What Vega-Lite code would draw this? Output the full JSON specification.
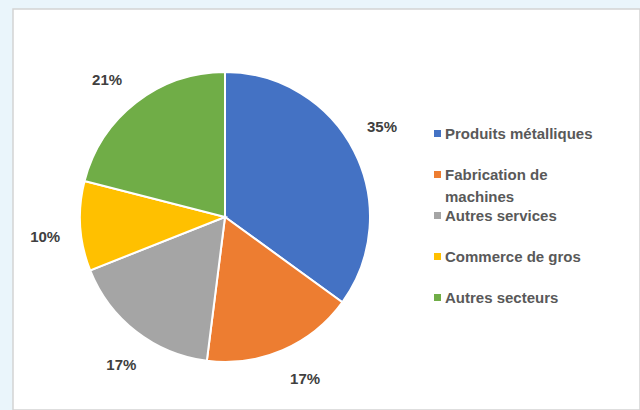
{
  "$schema": "https://vega.github.io/schema/vega-lite/v6.json",
  "width": 640,
  "height": 410,
  "autosize": {"type": "fit", "contains": "padding"},
  "padding": {"left": 13, "top": 9, "right": 0, "bottom": 0},
  "background": "#eaf5fb",
  "config": {
    "view": {"fill": "white", "stroke": "#d4d4d4", "strokeWidth": 1.5},
    "style": {
      "view": {"fill": "white", "stroke": "#d4d4d4", "strokeWidth": 1.5},
      "guide-label": {"lineHeight": 22}
    },
    "legend": {"padding": 0}
  },
  "data": {
    "values": [
      {"secteur": "Produits métalliques", "part": 0.35, "rang": 1},
      {"secteur": "Fabrication de machines", "part": 0.17, "rang": 2},
      {"secteur": "Autres services", "part": 0.17, "rang": 3},
      {"secteur": "Commerce de gros", "part": 0.10, "rang": 4},
      {"secteur": "Autres secteurs", "part": 0.21, "rang": 5}
    ]
  },
  "encoding": {
    "theta": {"field": "part", "type": "quantitative", "stack": true},
    "order": {"field": "rang", "type": "quantitative"}
  },
  "layer": [
    {
      "mark": {"type": "arc", "radius": 145, "x": 212, "y": 208, "stroke": "white", "strokeWidth": 2},
      "encoding": {
        "color": {
          "field": "secteur",
          "type": "nominal",
          "scale": {
            "domain": ["Produits métalliques", "Fabrication de machines", "Autres services", "Commerce de gros", "Autres secteurs"],
            "range": ["#4472C4", "#ED7D31", "#A5A5A5", "#FFC000", "#70AD47"]
          },
          "legend": {
            "title": null,
            "orient": "none",
            "legendX": 417,
            "legendY": 117,
            "symbolType": "square",
            "symbolSize": 49,
            "symbolStrokeWidth": 0,
            "labelFont": "Liberation Sans",
            "labelFontSize": 15,
            "labelFontWeight": "bold",
            "labelColor": "#595959",
            "labelOffset": 0,
            "labelLimit": 300,
            "labelBaseline": "middle",
            "gridAlign": "all",
            "rowPadding": 3,
            "labelExpr": "datum.label == 'Fabrication de machines' ? ['Fabrication de', 'machines'] : datum.label",
            "encode": {
              "labels": {
                "enter": {"lineHeight": {"value": 22}, "dy": {"signal": "datum.label == 'Fabrication de machines' ? 11 : 0"}},
                "update": {"lineHeight": {"value": 22}, "dy": {"signal": "datum.label == 'Fabrication de machines' ? 11 : 0"}}
              }
            }
          }
        }
      }
    },
    {
      "mark": {
        "type": "text",
        "radius": 181,
        "thetaOffset": -0.05,
        "x": 212,
        "y": 208,
        "font": "Liberation Sans",
        "fontSize": 15,
        "fontWeight": "bold",
        "fill": "#404040"
      },
      "encoding": {
        "text": {"field": "part", "type": "quantitative", "format": ".0%"}
      }
    }
  ]
}
